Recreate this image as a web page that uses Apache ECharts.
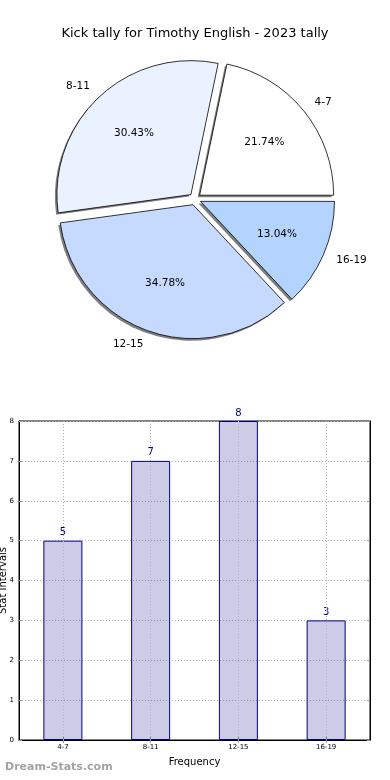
<!DOCTYPE html>
<html><head><meta charset="utf-8">
<script src="https://cdn.jsdelivr.net/npm/echarts@6/dist/echarts.min.js"></script>
<style>html,body{margin:0;padding:0;background:#fff}#c{width:390px;height:780px}</style>
</head><body><div id="c"></div>
<script>
const titleText = 'Kick tally for Timothy English - 2023 tally';
const categories = ['4-7', '8-11', '12-15', '16-19'];
const counts = [5, 7, 8, 3];
const sliceColors = ['#ffffff', '#eaf1ff', '#c6d9ff', '#b3d4ff'];
const xAxisName = 'Frequency';
const yAxisName = 'Stat Intervals';
const watermark = 'Dream-Stats.com';

const total = counts.reduce((a, b) => a + b, 0);
const FONT = 'DejaVu Sans';
const PIE_C = [195, 199];
const PIE_R = 134;
const OFFSET = 6;
const GRID_DOT = {type: [1, 2], color: '#b4b4b4', width: 1};
const TICK = {color: '#999', width: 1};

const chart = echarts.init(document.getElementById('c'), null, {renderer: 'canvas'});
const pieBase = {
  type: 'pie', startAngle: 0, clockwise: false, selectedMode: 'multiple',
  selectedOffset: OFFSET, avoidLabelOverlap: false, animation: false,
  emphasis: {disabled: true}, silent: true
};
chart.setOption({
  animation: false,
  textStyle: {fontFamily: FONT},
  title: [
    {text: titleText, left: 'center', top: 22,
     textStyle: {fontSize: 13, fontWeight: 'normal', color: '#000', fontFamily: FONT}},
    {text: watermark, left: 0, bottom: 2,
     textStyle: {fontSize: 11, fontWeight: 'bold', color: '#a3a3a3', fontFamily: FONT}}
  ],
  grid: {left: 19, right: 20, top: 421, bottom: 40, show: true, containLabel: false,
         outerBoundsMode: 'none',
         borderColor: '#000', borderWidth: 1, backgroundColor: 'transparent'},
  xAxis: [{
    type: 'category', data: categories,
    axisLine: {lineStyle: {color: '#000', width: 1}},
    axisTick: {show: true, alignWithLabel: true, inside: true, length: 3, lineStyle: TICK},
    axisLabel: {fontSize: 7, color: '#000', margin: 4},
    splitLine: {show: false},
    name: xAxisName, nameLocation: 'middle', nameGap: 17, nameMoveOverlap: false,
    nameTextStyle: {fontSize: 10, color: '#000'}
  }, {
    type: 'category', data: categories, position: 'top',
    axisLine: {show: false},
    axisTick: {show: true, alignWithLabel: true, inside: true, length: 3, lineStyle: TICK},
    axisLabel: {show: false}, splitLine: {show: false}
  }],
  yAxis: [{
    type: 'value', min: 0, max: 8, interval: 1,
    axisLine: {show: true, lineStyle: {color: '#000'}},
    axisTick: {show: true, inside: true, length: 3, lineStyle: TICK},
    axisLabel: {fontSize: 7, color: '#000', margin: 5},
    splitLine: {show: true, lineStyle: GRID_DOT},
    name: yAxisName, nameLocation: 'middle', nameGap: 11, nameMoveOverlap: false,
    nameTextStyle: {fontSize: 10, color: '#000'}
  }, {
    type: 'value', min: 0, max: 8, interval: 1, position: 'right',
    axisLine: {show: true, lineStyle: {color: '#000'}},
    axisTick: {show: true, inside: true, length: 3, lineStyle: TICK},
    axisLabel: {show: false}, splitLine: {show: false}
  }],
  series: [
    Object.assign({}, pieBase, {
      name: 'shadow', center: [PIE_C[0] - 2, PIE_C[1] + 2], radius: [0, PIE_R], z: 1,
      data: categories.map((c, i) => ({name: c, value: counts[i], selected: true})),
      itemStyle: {color: 'rgba(0,0,0,0.5)', borderWidth: 0},
      label: {show: false}, labelLine: {show: false}
    }),
    Object.assign({}, pieBase, {
      name: 'slices', center: PIE_C, radius: [0, PIE_R], z: 2,
      data: categories.map((c, i) => ({name: c, value: counts[i], selected: true,
                                       itemStyle: {color: sliceColors[i]}})),
      itemStyle: {borderColor: '#000', borderWidth: 0.8},
      label: {show: true, position: 'outside', formatter: '{b}', fontSize: 10.5,
              color: '#000', distanceToLabelLine: 0},
      labelLine: {show: false, length: 14, length2: 0}
    }),
    Object.assign({}, pieBase, {
      name: 'pct', center: PIE_C, radius: [PIE_R * 0.2, PIE_R], z: 3,
      data: categories.map((c, i) => ({name: c, value: counts[i], selected: true})),
      itemStyle: {color: 'rgba(0,0,0,0)', borderWidth: 0},
      label: {show: true, position: 'inside', fontSize: 10.5, color: '#000',
              formatter: p => (p.value / total * 100).toFixed(2) + '%'},
      labelLine: {show: false}
    }),
    {
      type: 'bar', xAxisIndex: 0, yAxisIndex: 0, data: counts, barWidth: 39,
      itemStyle: {color: 'rgba(0,0,128,0.2)', borderColor: '#000080', borderWidth: 1},
      label: {show: true, position: 'top', distance: 3, color: '#000080', fontSize: 10},
      emphasis: {disabled: true},
      markLine: {
        silent: true, symbol: 'none', label: {show: false}, animation: false,
        lineStyle: GRID_DOT,
        data: categories.map(c => ({xAxis: c}))
      }
    }
  ]
});
</script>
</body></html>
